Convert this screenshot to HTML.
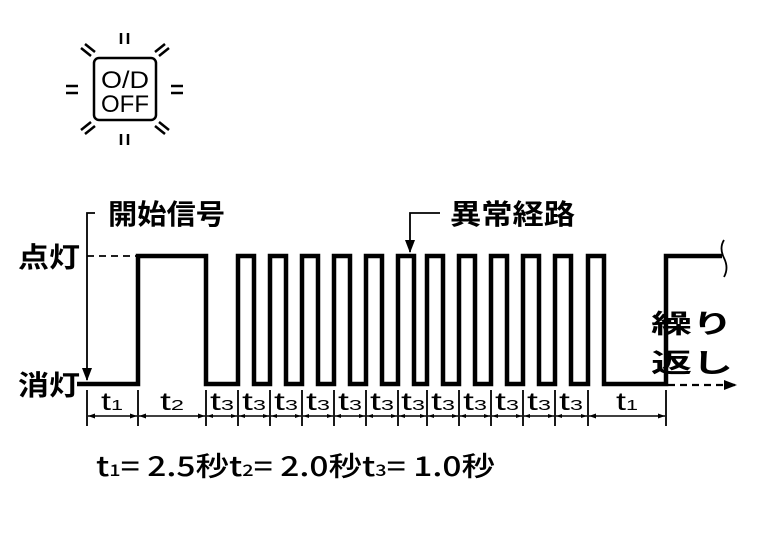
<!DOCTYPE html>
<html><head><meta charset="utf-8"><style>
html,body{margin:0;padding:0;background:#fff;}
svg{display:block;}
text{font-family:"Liberation Sans","Noto Sans CJK JP",sans-serif;fill:#000;}
.cj{font-family:"Noto Sans CJK JP","WenQuanYi Zen Hei",sans-serif;font-weight:bold;}
.bt{font-family:"Noto Sans CJK JP","WenQuanYi Zen Hei",sans-serif;font-weight:500;}
</style></head><body>
<svg width="768" height="544" viewBox="0 0 768 544" xmlns="http://www.w3.org/2000/svg">
<defs>
<marker id="big" markerWidth="14" markerHeight="14" refX="12" refY="7" orient="auto" markerUnits="userSpaceOnUse"><path d="M0,2 L13,7 L0,12 Z" fill="#000"/></marker>
</defs>
<g stroke="#000" fill="none" stroke-width="2.5">
<rect x="94" y="58" width="62" height="62" rx="5"/>
<line x1="121" y1="33" x2="121" y2="44"/><line x1="128" y1="33" x2="128" y2="44"/>
<line x1="121" y1="134" x2="121" y2="145"/><line x1="128" y1="134" x2="128" y2="145"/>
<line x1="66" y1="86" x2="78" y2="86"/><line x1="66" y1="93" x2="78" y2="93"/>
<line x1="171" y1="86" x2="183" y2="86"/><line x1="171" y1="93" x2="183" y2="93"/>
<line x1="81" y1="48" x2="91" y2="56"/><line x1="85" y1="44" x2="95" y2="52"/>
<line x1="159" y1="56" x2="169" y2="48"/><line x1="155" y1="52" x2="165" y2="44"/>
<line x1="81" y1="130" x2="91" y2="122"/><line x1="85" y1="134" x2="95" y2="126"/>
<line x1="159" y1="122" x2="169" y2="130"/><line x1="155" y1="126" x2="165" y2="134"/>
</g>
<text x="125" y="88" font-size="24" text-anchor="middle" textLength="48" lengthAdjust="spacingAndGlyphs">O/D</text>
<text x="125" y="112" font-size="24" text-anchor="middle" textLength="48" lengthAdjust="spacingAndGlyphs">OFF</text>

<path fill="none" stroke="#000" stroke-width="4.5" stroke-linejoin="miter" d="M77,384 H138 V256 H206 V384 H238 V256 H254 V384 H270 V256 H286 V384 H302 V256 H318 V384 H334 V256 H350 V384 H366 V256 H382 V384 H398 V256 H414 V384 H427 V256 H443 V384 H459 V256 H475 V384 H491 V256 H507 V384 H523 V256 H539 V384 H555 V256 H571 V384 H588 V256 H604 V384 H666 V256 H722"/>
<path d="M724,240 Q719,248 724,258 Q729,268 724,277" fill="none" stroke="#000" stroke-width="1.8"/>
<line x1="87" y1="256" x2="136" y2="256" stroke="#000" stroke-width="1.8" stroke-dasharray="7,5"/>
<line x1="668" y1="385" x2="736" y2="385" stroke="#000" stroke-width="2.2" stroke-dasharray="7,5" marker-end="url(#big)"/>
<path d="M95,213 H87 V380" fill="none" stroke="#000" stroke-width="1.8" marker-end="url(#big)"/>
<path d="M440,213 H410 V252" fill="none" stroke="#000" stroke-width="1.8" marker-end="url(#big)"/>
<text class="cj" x="108" y="224" font-size="28" textLength="117" lengthAdjust="spacingAndGlyphs">開始信号</text>
<text class="cj" x="450" y="224" font-size="28" textLength="125" lengthAdjust="spacingAndGlyphs">異常経路</text>
<text class="cj" x="18" y="267" font-size="28" textLength="62" lengthAdjust="spacingAndGlyphs">点灯</text>
<text class="cj" x="18" y="395" font-size="28" textLength="62" lengthAdjust="spacingAndGlyphs">消灯</text>
<text class="cj" x="651" y="333" font-size="26" textLength="82" lengthAdjust="spacingAndGlyphs">繰り</text>
<text class="cj" x="651" y="372" font-size="26" textLength="82" lengthAdjust="spacingAndGlyphs">返し</text>

<g stroke="#000" stroke-width="1.8">
<line x1="87" y1="390" x2="87" y2="426"/><line x1="138" y1="390" x2="138" y2="426"/>
<line x1="206" y1="390" x2="206" y2="426"/><line x1="238" y1="390" x2="238" y2="426"/>
<line x1="270" y1="390" x2="270" y2="426"/><line x1="302" y1="390" x2="302" y2="426"/>
<line x1="334" y1="390" x2="334" y2="426"/><line x1="366" y1="390" x2="366" y2="426"/>
<line x1="398" y1="390" x2="398" y2="426"/><line x1="427" y1="390" x2="427" y2="426"/>
<line x1="459" y1="390" x2="459" y2="426"/><line x1="491" y1="390" x2="491" y2="426"/>
<line x1="523" y1="390" x2="523" y2="426"/><line x1="555" y1="390" x2="555" y2="426"/>
<line x1="588" y1="390" x2="588" y2="426"/><line x1="666" y1="390" x2="666" y2="426"/>
</g>
<path stroke="#000" stroke-width="1.4" fill="none" d="M88,416 H137 M139,416 H205 M207,416 H237 M239,416 H269 M271,416 H301 M303,416 H333 M335,416 H365 M367,416 H397 M399,416 H426 M428,416 H458 M460,416 H490 M492,416 H522 M524,416 H554 M556,416 H587 M589,416 H665"/>
<path fill="#000" d="M88,416 l7,-2.5 v5z M137,416 l-7,-2.5 v5z M139,416 l7,-2.5 v5z M205,416 l-7,-2.5 v5z
M207,416 l6,-2 v4z M237,416 l-6,-2 v4z M239,416 l6,-2 v4z M269,416 l-6,-2 v4z M271,416 l6,-2 v4z M301,416 l-6,-2 v4z
M303,416 l6,-2 v4z M333,416 l-6,-2 v4z M335,416 l6,-2 v4z M365,416 l-6,-2 v4z M367,416 l6,-2 v4z M397,416 l-6,-2 v4z
M399,416 l6,-2 v4z M426,416 l-6,-2 v4z M428,416 l6,-2 v4z M458,416 l-6,-2 v4z M460,416 l6,-2 v4z M490,416 l-6,-2 v4z
M492,416 l6,-2 v4z M522,416 l-6,-2 v4z M524,416 l6,-2 v4z M554,416 l-6,-2 v4z M556,416 l6,-2 v4z M587,416 l-6,-2 v4z
M589,416 l7,-2.5 v5z M665,416 l-7,-2.5 v5z"/>
<g font-size="25" text-anchor="middle">
<text x="112" y="410" textLength="22" lengthAdjust="spacingAndGlyphs">t<tspan font-size="15">1</tspan></text>
<text x="172" y="410" textLength="24" lengthAdjust="spacingAndGlyphs">t<tspan font-size="15">2</tspan></text>
<text x="222" y="410" textLength="24" lengthAdjust="spacingAndGlyphs">t<tspan font-size="15">3</tspan></text>
<text x="254" y="410" textLength="24" lengthAdjust="spacingAndGlyphs">t<tspan font-size="15">3</tspan></text>
<text x="286" y="410" textLength="24" lengthAdjust="spacingAndGlyphs">t<tspan font-size="15">3</tspan></text>
<text x="318" y="410" textLength="24" lengthAdjust="spacingAndGlyphs">t<tspan font-size="15">3</tspan></text>
<text x="350" y="410" textLength="24" lengthAdjust="spacingAndGlyphs">t<tspan font-size="15">3</tspan></text>
<text x="382" y="410" textLength="24" lengthAdjust="spacingAndGlyphs">t<tspan font-size="15">3</tspan></text>
<text x="413" y="410" textLength="24" lengthAdjust="spacingAndGlyphs">t<tspan font-size="15">3</tspan></text>
<text x="443" y="410" textLength="24" lengthAdjust="spacingAndGlyphs">t<tspan font-size="15">3</tspan></text>
<text x="475" y="410" textLength="24" lengthAdjust="spacingAndGlyphs">t<tspan font-size="15">3</tspan></text>
<text x="507" y="410" textLength="24" lengthAdjust="spacingAndGlyphs">t<tspan font-size="15">3</tspan></text>
<text x="539" y="410" textLength="24" lengthAdjust="spacingAndGlyphs">t<tspan font-size="15">3</tspan></text>
<text x="571" y="410" textLength="24" lengthAdjust="spacingAndGlyphs">t<tspan font-size="15">3</tspan></text>
<text x="627" y="410" textLength="22" lengthAdjust="spacingAndGlyphs">t<tspan font-size="15">1</tspan></text>
</g>
<text class="bt" x="96" y="476" font-size="27" textLength="399" lengthAdjust="spacingAndGlyphs">t<tspan font-size="16">1</tspan>= 2.5秒t<tspan font-size="16">2</tspan>= 2.0秒t<tspan font-size="16">3</tspan>= 1.0秒</text>
</svg>
</body></html>
